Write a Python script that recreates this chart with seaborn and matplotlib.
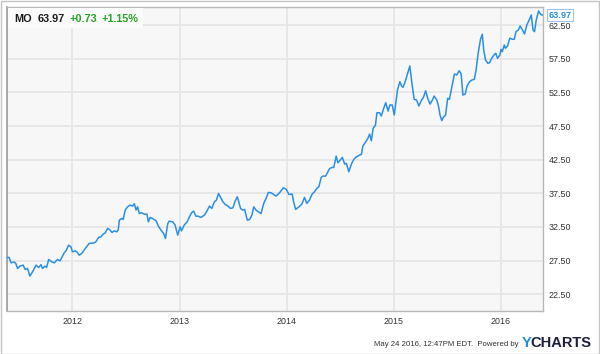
import matplotlib
matplotlib.use("Agg")
import matplotlib.pyplot as plt
import matplotlib.dates as mdates
from matplotlib.patches import Rectangle
import numpy as np
import pandas as pd
import seaborn as sns

# ---------------- data ----------------
dates = [
    "2011-05-24", "2011-05-31", "2011-06-07", "2011-06-17", "2011-06-23", "2011-06-29",
    "2011-07-07", "2011-07-18", "2011-07-25", "2011-08-02", "2011-08-10", "2011-08-19",
    "2011-08-31", "2011-09-09", "2011-09-17", "2011-09-22", "2011-09-30", "2011-10-06",
    "2011-10-13", "2011-10-24", "2011-11-01", "2011-11-12", "2011-11-21", "2011-12-05",
    "2011-12-11", "2011-12-20", "2011-12-28", "2012-01-02", "2012-01-11", "2012-01-17",
    "2012-01-25", "2012-02-03", "2012-02-15", "2012-02-28", "2012-03-16", "2012-03-22",
    "2012-03-31", "2012-04-08", "2012-04-16", "2012-04-23", "2012-05-01", "2012-05-07",
    "2012-05-16", "2012-05-24", "2012-06-01", "2012-06-06", "2012-06-10", "2012-06-18",
    "2012-06-23", "2012-06-30", "2012-07-08", "2012-07-16", "2012-07-25", "2012-07-31",
    "2012-08-06", "2012-08-11", "2012-08-17", "2012-08-25", "2012-09-03", "2012-09-12",
    "2012-09-17", "2012-09-23", "2012-10-01", "2012-10-13", "2012-10-21", "2012-10-30",
    "2012-11-08", "2012-11-14", "2012-11-22", "2012-11-27", "2012-12-09", "2012-12-17",
    "2012-12-26", "2013-01-03", "2013-01-08", "2013-01-17", "2013-01-27", "2013-02-04",
    "2013-02-11", "2013-02-18", "2013-02-26", "2013-03-06", "2013-03-15", "2013-03-27",
    "2013-04-05", "2013-04-13", "2013-04-21", "2013-04-30", "2013-05-07", "2013-05-14",
    "2013-05-21", "2013-05-29", "2013-06-06", "2013-06-15", "2013-06-24", "2013-07-02",
    "2013-07-10", "2013-07-17", "2013-07-22", "2013-07-28", "2013-08-05", "2013-08-11",
    "2013-08-20", "2013-08-28", "2013-09-05", "2013-09-11", "2013-09-19", "2013-09-27",
    "2013-10-06", "2013-10-15", "2013-10-23", "2013-10-31", "2013-11-09", "2013-11-26",
    "2013-12-08", "2013-12-21", "2013-12-31", "2014-01-09", "2014-01-20", "2014-01-25",
    "2014-02-01", "2014-02-12", "2014-02-22", "2014-03-03", "2014-03-11", "2014-03-20",
    "2014-03-29", "2014-04-06", "2014-04-14", "2014-04-21", "2014-04-29", "2014-05-05",
    "2014-05-14", "2014-05-22", "2014-05-28", "2014-06-06", "2014-06-11", "2014-06-19",
    "2014-06-25", "2014-07-03", "2014-07-10", "2014-07-18", "2014-07-24", "2014-08-01",
    "2014-08-10", "2014-08-18", "2014-08-27", "2014-09-07", "2014-09-13", "2014-09-18",
    "2014-09-26", "2014-10-05", "2014-10-11", "2014-10-17", "2014-10-23", "2014-10-31",
    "2014-11-05", "2014-11-14", "2014-11-20", "2014-11-28", "2014-12-05", "2014-12-13",
    "2014-12-19", "2014-12-27", "2015-01-03", "2015-01-08", "2015-01-14", "2015-01-22",
    "2015-01-28", "2015-02-02", "2015-02-08", "2015-02-16", "2015-02-25", "2015-03-05",
    "2015-03-12", "2015-03-20", "2015-03-28", "2015-04-06", "2015-04-12", "2015-04-20",
    "2015-04-27", "2015-05-05", "2015-05-13", "2015-05-19", "2015-05-28", "2015-06-02",
    "2015-06-08", "2015-06-14", "2015-06-19", "2015-06-27", "2015-07-04", "2015-07-10",
    "2015-07-18", "2015-07-27", "2015-08-04", "2015-08-12", "2015-08-19", "2015-08-25",
    "2015-09-02", "2015-09-08", "2015-09-17", "2015-09-25", "2015-10-03", "2015-10-09",
    "2015-10-16", "2015-10-24", "2015-10-30", "2015-11-04", "2015-11-10", "2015-11-18",
    "2015-11-24", "2015-12-01", "2015-12-09", "2015-12-15", "2015-12-21", "2015-12-29",
    "2016-01-02", "2016-01-06", "2016-01-13", "2016-01-17", "2016-01-24", "2016-02-01",
    "2016-02-09", "2016-02-16", "2016-02-22", "2016-03-01", "2016-03-07", "2016-03-15",
    "2016-03-22", "2016-03-30", "2016-04-07", "2016-04-14", "2016-04-20", "2016-04-25",
    "2016-05-01", "2016-05-09", "2016-05-15", "2016-05-20", "2016-05-24",
]

prices = [
    27.96, 27.96, 27.16, 27.30, 27.07, 26.32,
    26.67, 26.82, 26.17, 26.32, 25.18, 25.82,
    26.82, 26.47, 26.90, 26.32, 26.67, 26.47,
    27.66, 27.30, 27.16, 27.66, 27.46, 28.65,
    28.94, 29.79, 29.54, 28.80, 28.94, 28.80,
    28.30, 28.56, 29.30, 30.04, 30.13, 30.28,
    30.93, 31.03, 31.43, 31.62, 32.28, 32.13,
    31.68, 31.92, 31.77, 32.02, 33.51, 33.76,
    33.61, 35.00, 35.49, 35.74, 35.60, 35.95,
    35.00, 35.49, 34.50, 34.60, 34.40, 34.40,
    33.26, 33.91, 33.76, 33.41, 32.62, 32.02,
    31.53, 30.78, 33.00, 33.36, 33.26, 32.77,
    31.28, 32.52, 31.92, 32.77, 33.26, 34.00,
    34.60, 34.85, 34.10, 34.10, 33.91, 34.26,
    34.90, 35.60, 35.25, 36.23, 36.49, 37.48,
    36.90, 36.23, 35.84, 35.60, 35.25, 35.34,
    36.38, 36.98, 36.23, 35.25, 35.00, 35.10,
    33.51, 33.61, 34.26, 35.49, 35.00, 34.75,
    34.50, 36.00, 36.74, 37.63, 37.58, 37.08,
    37.58, 38.32, 38.08, 37.33, 37.38, 36.23,
    35.10, 35.49, 35.89, 36.89, 36.00, 36.49,
    37.38, 37.72, 38.23, 38.47, 39.86, 40.06,
    40.06, 40.70, 41.20, 41.35, 41.35, 43.03,
    42.04, 42.44, 42.84, 41.85, 41.95, 40.70,
    41.85, 42.54, 42.93, 43.18, 43.29, 44.52,
    45.02, 45.67, 46.31, 45.31, 47.16, 47.65,
    49.48, 49.48, 48.99, 50.13, 50.97, 49.73,
    50.63, 50.63, 49.14, 50.88, 52.86, 54.10,
    53.45, 53.26, 53.95, 55.09, 56.43, 53.60,
    51.47, 51.37, 50.48, 51.37, 51.71, 52.75,
    51.62, 50.77, 51.37, 51.96, 51.37, 50.63,
    49.14, 48.30, 48.80, 49.14, 51.62, 51.47,
    53.26, 55.24, 55.09, 55.73, 55.24, 52.11,
    52.26, 53.45, 54.10, 54.35, 54.45, 55.83,
    58.32, 60.40, 61.15, 58.81, 57.32, 56.83,
    56.93, 57.57, 58.07, 58.32, 57.57, 58.07,
    58.90, 58.55, 59.55, 59.06, 59.40, 60.57,
    60.40, 60.40, 61.53, 61.79, 62.38, 61.79,
    61.19, 62.53, 63.27, 64.02, 61.79, 61.53,
    63.27, 64.60, 64.17, 64.02, 63.97,
]

y_ticks = [22.5, 27.5, 32.5, 37.5, 42.5, 47.5, 52.5, 57.5, 62.5]
ticker_name = "MO"
last_price_label = "63.97"
change_abs = "+0.73"
change_pct = "+1.15%"
footer_text = "May 24 2016, 12:47PM EDT.  Powered by"

# ---------------- style ----------------
sns.set_style("white")
plt.rcParams["font.family"] = ["Liberation Sans", "DejaVu Sans"]

LINE = "#2a8fe6"
GRID = "#e6e6e6"
GREEN = "#27a127"

df = pd.DataFrame({"date": pd.to_datetime(dates), "price": prices})

W, H = 600, 354
fig = plt.figure(figsize=(W / 100, H / 100), dpi=100)
fig.patch.set_facecolor("white")
ax = fig.add_axes([7 / W, 43 / H, 536 / W, 304 / H])
ax.set_facecolor("#f7f7f7")

sns.lineplot(data=df, x="date", y="price", ax=ax, color=LINE, linewidth=1.1, zorder=3)

ax.set_xlim(df["date"].iloc[0], df["date"].iloc[-1])
ax.set_ylim(20, 65.2)

ax.set_yticks(y_ticks)
ax.set_yticklabels([f"{v:.2f}" for v in y_ticks])
ax.yaxis.tick_right()
ax.xaxis.set_major_locator(mdates.YearLocator())
ax.xaxis.set_major_formatter(mdates.DateFormatter("%Y"))
ax.tick_params(axis="both", length=0, labelsize=6.4, labelcolor="#333333")
ax.tick_params(axis="y", pad=4)
ax.tick_params(axis="x", pad=4)
ax.set_xlabel("")
ax.set_ylabel("")

ax.grid(True, color=GRID, linewidth=1.3, zorder=0)
ax.set_axisbelow(True)

for side in ["top", "right", "bottom"]:
    ax.spines[side].set_visible(True)
    ax.spines[side].set_color("#b8b8b8")
    ax.spines[side].set_linewidth(1.0)
ax.spines["left"].set_visible(True)
ax.spines["left"].set_color("#9a9a9a")
ax.spines["left"].set_linewidth(1.2)


def fx(px):
    return px / W


def fy(py):
    return 1 - py / H


# outer frame
fig.patches.append(Rectangle((0.5 / W, 0.5 / H), 1 - 1.5 / W, 1 - 1.5 / H,
                             transform=fig.transFigure, fill=False,
                             edgecolor="#c4c4c4", linewidth=1.0, zorder=10))

# header box
fig.patches.append(Rectangle((fx(8), fy(28)), fx(143) - fx(8), fy(8) - fy(28),
                             transform=fig.transFigure, facecolor="#fbfbfb",
                             edgecolor="none", zorder=5))

hdr_y = fy(22)
fig.text(fx(14.5), hdr_y, ticker_name, fontsize=7.8, fontweight="bold",
         color="#1a1a1a", va="baseline", zorder=6)
fig.text(fx(37.5), hdr_y, last_price_label, fontsize=7.8, fontweight="bold",
         color="#1a1a1a", va="baseline", zorder=6)
fig.text(fx(69), hdr_y, change_abs, fontsize=7.8, fontweight="bold",
         color=GREEN, va="baseline", zorder=6)
fig.text(fx(101), hdr_y, change_pct, fontsize=7.8, fontweight="bold",
         color=GREEN, va="baseline", zorder=6)

# last value tag
ax.annotate(last_price_label, xy=(1.0, prices[-1]),
            xycoords=("axes fraction", "data"),
            xytext=(4, 0), textcoords="offset points",
            ha="left", va="center", fontsize=6.6, fontweight="bold", color=LINE,
            bbox=dict(boxstyle="square,pad=0.18", facecolor="white",
                      edgecolor="#9cc6ec", linewidth=0.8),
            annotation_clip=False, zorder=7)

# footer
fig.text(fx(518), fy(346), footer_text, fontsize=5.6, color="#333333",
         ha="right", va="baseline")
fig.text(fx(522), fy(347), "Y", fontsize=10.5, fontweight="bold",
         color="#1e8fe1", ha="left", va="baseline")
fig.text(fx(530.5), fy(347), "CHARTS", fontsize=10.5, fontweight="bold",
         color="#1b1f3b", ha="left", va="baseline")

fig.savefig("out.png", dpi=100)
